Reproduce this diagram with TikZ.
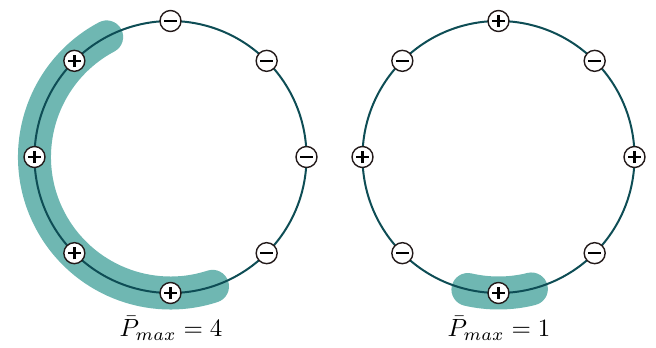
\documentclass[tikz,border=0pt]{standalone}
\usepackage{graphicx}
\usetikzlibrary{calc}
\definecolor{ringcol}{HTML}{0E4D55}
\definecolor{bandcol}{HTML}{6FB7B2}
\definecolor{nodecol}{HTML}{231A1A}
\tikzset{
  x=1bp, y=1bp,
  ring/.style={draw=ringcol, line width=2bp},
  band/.style={draw=bandcol, line width=33bp, line cap=round},
  chargebase/.style={circle, draw=nodecol, fill=white, minimum size=21bp, inner sep=0pt, line width=1.4bp},
  minusnode/.style={chargebase, path picture={
      \draw[line width=2.4bp, black] ([xshift=-6.2bp]path picture bounding box.center) -- ([xshift=6.2bp]path picture bounding box.center);}},
  plusnode/.style={chargebase, path picture={
      \draw[line width=2.4bp, black] ([xshift=-6.2bp]path picture bounding box.center) -- ([xshift=6.2bp]path picture bounding box.center);
      \draw[line width=2.4bp, black] ([yshift=-6.2bp]path picture bounding box.center) -- ([yshift=6.2bp]path picture bounding box.center);}},
  lab/.style={inner sep=0pt}
}
\begin{document}
\begin{tikzpicture}
\useasboundingbox (0,0) rectangle (656,347);
\coordinate (cl) at (170.5,190);
\coordinate (cr) at (498.5,190);
% bands
\draw[band] ([shift={(118:136)}]cl) arc[start angle=118, end angle=288, radius=136];
\draw[band] ([shift={(257:136)}]cr) arc[start angle=257, end angle=284, radius=136];
% rings
\draw[ring] (cl) circle[radius=136];
\draw[ring] (cr) circle[radius=136];
% left charges
\node[minusnode] (l1) at ([shift={(90:136)}]cl) {};
\node[minusnode] (l2) at ([shift={(45:136)}]cl) {};
\node[minusnode] (l3) at ([shift={(0:136)}]cl) {};
\node[minusnode] (l4) at ([shift={(-45:136)}]cl) {};
\node[plusnode] (l5) at ([shift={(-90:136)}]cl) {};
\node[plusnode] (l6) at ([shift={(-135:136)}]cl) {};
\node[plusnode] (l7) at ([shift={(180:136)}]cl) {};
\node[plusnode] (l8) at ([shift={(135:136)}]cl) {};
% right charges
\node[plusnode] (r1) at ([shift={(90:136)}]cr) {};
\node[minusnode] (r2) at ([shift={(45:136)}]cr) {};
\node[plusnode] (r3) at ([shift={(0:136)}]cr) {};
\node[minusnode] (r4) at ([shift={(-45:136)}]cr) {};
\node[plusnode] (r5) at ([shift={(-90:136)}]cr) {};
\node[minusnode] (r6) at ([shift={(-135:136)}]cr) {};
\node[plusnode] (r7) at ([shift={(180:136)}]cr) {};
\node[minusnode] (r8) at ([shift={(135:136)}]cr) {};
% labels
\node[lab] (tl) at (171,19) {\scalebox{2.5}{$\bar{P}_{max} = 4$}};
\node[lab] (tr) at (499,19) {\scalebox{2.5}{$\bar{P}_{max} = 1$}};
\end{tikzpicture}
\end{document}
